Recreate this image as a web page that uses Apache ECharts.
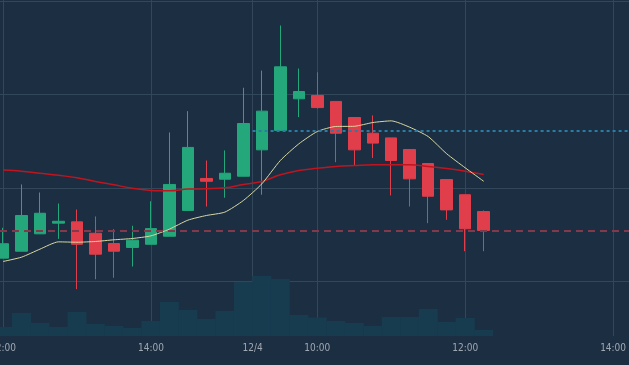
<!DOCTYPE html>
<html>
<head>
<meta charset="utf-8">
<script src="https://cdn.jsdelivr.net/npm/echarts@6/dist/echarts.min.js"></script>
<style>
html,body{margin:0;padding:0;background:#1c2e42;}
#chart{width:629px;height:365px;}
</style>
</head>
<body>
<div id="chart"></div>
<script>
// 15-minute bars, index position on the time axis
var tickValues = [0, 8, 13.5, 17, 25, 33];
var tickLabels = ['12:00', '14:00', '12/4', '10:00', '12:00', '14:00'];

var opens  = [100.625,100.662,100.755,100.812,100.819,100.758,100.703,100.682,100.699,100.742,100.880,101.051,101.047,101.063,101.204,101.308,101.477,101.495,101.463,101.377,101.293,101.268,101.206,101.131,101.045,100.964,100.874];
var closes = [100.702,100.853,100.865,100.822,100.699,100.646,100.662,100.721,100.783,101.019,101.217,101.036,101.079,101.345,101.411,101.648,101.516,101.430,101.293,101.204,101.240,101.147,101.049,100.956,100.883,100.782,100.773];
var lows   = [100.625,100.662,100.755,100.728,100.459,100.512,100.520,100.580,100.699,100.742,100.880,100.901,100.948,101.063,100.964,101.308,101.379,101.425,101.138,101.120,101.161,100.960,100.901,100.812,100.830,100.662,100.662];
var highs  = [100.787,101.019,100.976,100.917,100.885,100.848,100.780,100.798,100.929,101.297,101.411,101.147,101.201,101.536,101.628,101.869,101.639,101.619,101.463,101.377,101.388,101.268,101.206,101.131,101.045,100.964,100.880];
var volumes = [900,2300,1300,900,2400,1200,1000,800,1500,3400,2600,1700,2500,5400,6000,5700,2100,1850,1500,1300,1000,1900,1900,2700,1400,1800,600];
var maFast = [100.607,100.630,100.673,100.712,100.710,100.714,100.723,100.730,100.744,100.780,100.828,100.853,100.871,100.933,101.022,101.147,101.236,101.302,101.329,101.330,101.350,101.359,101.325,101.275,101.183,101.108,101.036];
var maSlow = [101.096,101.090,101.079,101.068,101.055,101.035,101.017,100.999,100.987,100.985,100.994,100.996,101.001,101.019,101.035,101.071,101.094,101.105,101.115,101.120,101.124,101.124,101.124,101.115,101.104,101.090,101.072];
var lastPrice = 100.773;
var sessionLevel = 101.308;
var sessionStart = 13.5;
var slotCount = 34;

var xMin = -0.162, xMax = 33.86;
var step = 629 / (xMax - xMin);           // px per bar slot
var slotLeft = -xMin * step - step / 2;   // left edge of slot 0

var candleData = opens.map(function (o, i) { return [i, o, closes[i], lows[i], highs[i]]; });
var slots = [];
for (var s = 0; s < slotCount; s++) slots.push(String(s));
var fastData = maFast.map(function (v, i) { return [i, v]; });
var slowData = maSlow.map(function (v, i) { return [i, v]; });

var chart = echarts.init(document.getElementById('chart'), null, {renderer: 'canvas'});
chart.setOption({
  backgroundColor: '#1c2e42',
  animation: false,
  grid: [
    {left: 0, right: 0, top: 1, height: 374, outerBoundsMode: 'none', containLabel: false},
    {left: 0, right: 0, top: 0, bottom: 29, outerBoundsMode: 'none', containLabel: false},
    {left: slotLeft, width: step * slotCount, top: 0, bottom: 29, outerBoundsMode: 'none', containLabel: false}
  ],
  xAxis: [
    {type: 'value', gridIndex: 0, min: xMin, max: xMax, show: false, splitLine: {show: false}},
    {type: 'value', gridIndex: 1, min: xMin, max: xMax,
      axisLine: {show: false},
      axisTick: {show: false, customValues: tickValues},
      axisLabel: {customValues: tickValues, color: '#a0a8b2', fontSize: 10, margin: 7,
        fontFamily: '"Liberation Sans Narrow", "DejaVu Sans Condensed", sans-serif',
        formatter: function (v) { var k = tickValues.indexOf(v); return k >= 0 ? tickLabels[k] : ''; }},
      splitLine: {show: true, lineStyle: {color: '#33475a', width: 1}}
    },
    {type: 'category', gridIndex: 2, data: slots, show: false, boundaryGap: true}
  ],
  yAxis: [
    {type: 'value', gridIndex: 0, min: 100, max: 102, interval: 0.5,
      axisLine: {show: false}, axisTick: {show: false}, axisLabel: {show: false},
      splitLine: {show: true, lineStyle: {color: '#33475a', width: 1}}},
    {type: 'value', gridIndex: 1, min: 0, max: 33600, show: false, splitLine: {show: false}},
    {type: 'value', gridIndex: 2, min: 0, max: 33600, show: false, splitLine: {show: false}}
  ],
  series: [
    {type: 'bar', xAxisIndex: 2, yAxisIndex: 2, data: volumes, barWidth: Math.ceil(step),
      itemStyle: {color: '#173b4f'}, silent: true},
    {type: 'candlestick', xAxisIndex: 0, yAxisIndex: 0, data: candleData,
      encode: {x: 0, y: [1, 2, 3, 4]}, barWidth: 12,
      itemStyle: {color: '#23a77b', color0: '#e03e4a', borderColor: '#23a77b', borderColor0: '#e03e4a', borderWidth: 1},
      markLine: {silent: true, symbol: 'none', label: {show: false},
        data: [
          [{coord: [xMin, lastPrice], lineStyle: {color: '#84384b', type: [7, 5], width: 2}},
           {coord: [xMax, lastPrice]}],
          [{coord: [sessionStart, sessionLevel], lineStyle: {color: '#2b7ca3', type: [3, 3], width: 2}},
           {coord: [xMax, sessionLevel]}]
        ]}
    },
    {type: 'line', xAxisIndex: 0, yAxisIndex: 0, data: slowData, symbol: 'none', smooth: 0.4,
      lineStyle: {color: '#c0151f', width: 1.5}},
    {type: 'line', xAxisIndex: 0, yAxisIndex: 0, data: fastData, symbol: 'none', smooth: 0.2,
      lineStyle: {color: '#d9d9a2', width: 1}}
  ]
});
</script>
</body>
</html>
